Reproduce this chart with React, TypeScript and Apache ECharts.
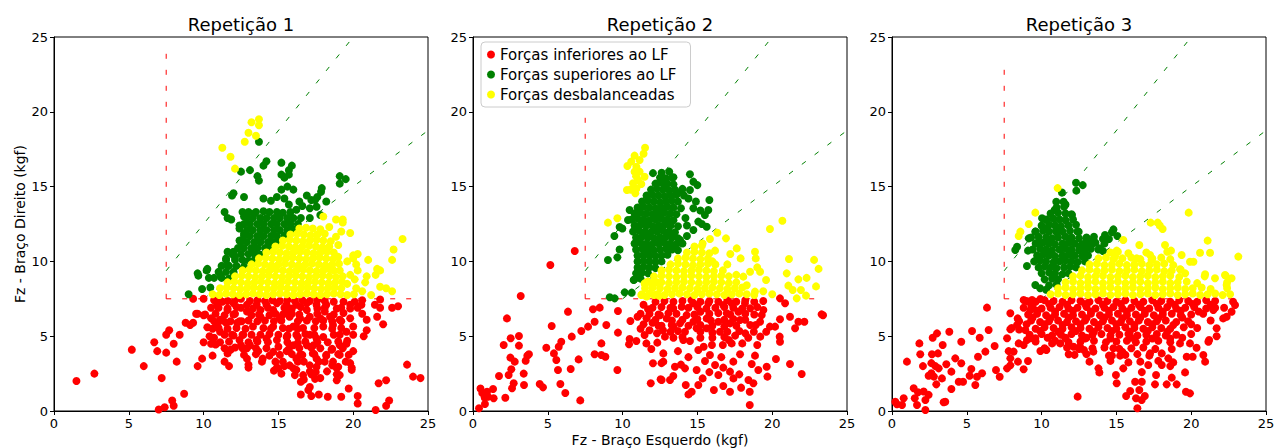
import React, { useEffect, useRef } from 'react';
import * as echarts from 'echarts';

const TITLES = ['Repetição 1', 'Repetição 2', 'Repetição 3'];
const X_LABEL = 'Fz - Braço Esquerdo (kgf)';
const Y_LABEL = 'Fz - Braço Direito (kgf)';
const SERIES_NAMES = ['Forças inferiores ao LF', 'Forças superiores ao LF', 'Forças desbalanceadas'];
const COLORS = ['#ff0000', '#008000', '#ffff00'];
const LF = 7.5;
const UPPER_RATIO = 1.25;
const LOWER_RATIO = 0.75;
const AXIS_MAX = 25;
const LINE_END = [24.5, 23.3, 23.3];

// ---------------- Repetição 1 ----------------
const p1Red = [
  [1.5,2.0],[2.7,2.5],[5.2,4.1],[6.0,3.0],[7.2,2.2],[7.0,0.1],[7.4,0.25],[7.9,0.7],[8.0,0.35],[8.7,1.15],[6.7,4.6],[6.9,4.0],[7.5,3.9],[7.5,5.1],[7.7,5.4],[8.0,4.5],[8.4,5.1],[8.2,3.3],[9.6,3.0],[9.9,3.5],[10.6,3.7],[8.8,5.9],[9.1,5.75],[9.3,5.9],[9.3,7.5],[10.0,7.5],[9.5,6.5],[10.0,4.6],
  [9.6,6.5],[10.0,6.4],[10.5,6.2],[10.25,5.6],[10.6,5.5],[10.9,5.75],[11.1,6.1],[10.5,6.9],[10.9,7.1],[10.7,7.4],[11.25,7.3],[11.6,6.75],[11.5,5.9],[11.8,6.0],[12.25,5.9],[12.1,6.5],[12.5,6.9],[12.0,7.2],[12.5,7.5],[10.4,5.0],[10.7,4.9],[11.1,4.6],[10.5,4.5],[10.8,4.45],[11.9,5.1],[12.4,4.75],[12.6,5.1],[11.8,4.1],[11.6,3.85],[11.4,3.3],[11.7,3.0],[12.6,4.2],[11.1,5.3],
  [23.6,3.1],[24.0,2.3],[24.5,2.2],[22.2,2.05],[21.7,1.85],[22.4,0.7],[22.2,0.35],[21.5,0.07],[20.3,1.0],[20.3,0.5],[19.2,0.95],[19.7,1.5],[18.3,0.95],[17.7,1.1],[17.2,1.0],[16.5,1.1],[17.1,1.6],[17.0,1.4],[16.5,1.95],[17.45,2.15],[17.8,2.2],[18.9,2.05],[19.1,2.4],[18.9,2.85],[19.9,2.75],[19.8,3.2],[20.0,4.0],[20.7,5.0],[20.9,5.4],[22.0,5.8],[21.6,6.3],[21.45,7.1],[21.8,6.9],[22.6,6.9],[23.0,7.0],[21.8,7.45],
  [14.7,2.7],[15.0,2.85],[16.1,2.4],[16.2,2.75],
  [13.0,3.1],[12.9,3.5],[12.5,4.4],[13.1,4.4],[12.65,5.1],[13.55,4.75],[13.95,3.5],[13.65,4.0],[14.8,3.3],[15.3,3.3],[15.55,4.0],[15.1,3.75],[16.0,4.4],[16.45,3.75],[16.7,3.3],[17.1,3.05],[17.55,2.95],[18.1,3.3],[18.2,3.75],[18.55,4.1],[19.1,4.4],[19.55,4.5],[19.1,3.75],[17.8,4.2],[17.3,3.85],[16.9,4.4],[17.55,4.85],[17.1,5.1],[18.0,4.95],[18.7,5.1],[19.1,5.1],[19.55,5.3],[20.0,5.65],[19.8,6.2],[19.35,6.55],[18.9,6.85],[18.2,7.1],[17.55,7.1],[16.9,7.2],[16.2,7.1],[15.55,7.1],[14.9,7.2],[14.2,7.1],[13.55,7.1],[12.9,7.1],[13.2,6.4],[13.8,6.3],[14.4,6.4],[15.1,6.2],[15.75,6.3],[16.45,6.2],[17.1,6.3],[17.8,6.2],[18.45,6.3],[19.1,6.1],[13.3,5.65],[14.0,5.55],[14.65,5.65],[15.3,5.55],[16.0,5.65],[16.65,5.55],[18.0,5.65],[18.65,5.75],[14.2,4.85],[14.9,4.75],[15.55,4.95],[16.3,4.95],[14.2,4.2],[14.65,3.95],[16.8,4.65],[17.35,4.4],[15.75,3.05],[16.2,3.5],[17.55,3.5],[18.65,3.3],[18.25,2.65],[16.65,2.4],[17.1,2.65],[12.9,6.65],[12.55,6.0],[15.55,6.65],[16.9,6.75],[18.1,6.65],[19.8,7.1],[20.1,7.3],[20.55,7.1],[14.65,6.75],[13.8,6.75],[18.7,7.3],[19.35,7.3],
  [11.1,7.4],[11.6,7.35],[12.1,7.4],[13.1,7.35],[13.6,7.4],[14.1,7.35],[14.6,7.4],[15.1,7.35],[15.6,7.4],[16.1,7.35],[16.6,7.4],[17.1,7.35],[17.6,7.4],[18.1,7.35],[20.6,7.4],
  [11.0,6.9],[11.6,6.85],[12.2,6.95],[13.3,6.85],[14.3,6.9],[15.4,6.9],[15.9,6.85],[16.5,6.95],[17.6,6.85],[18.1,6.9],[19.2,6.9],[19.8,6.85],[20.3,6.9],
  [10.1,6.45],[10.8,6.5],[11.4,6.4],[12.0,6.45],[13.7,6.45],[14.8,6.5],[15.3,6.45],[15.9,6.5],[16.4,6.45],[17.6,6.5],[18.7,6.45],[20.6,6.5],
  [10.7,6.0],[11.2,6.05],[12.4,6.0],[13.0,6.05],[13.6,6.0],[14.1,6.05],[14.7,6.0],[15.2,6.05],[16.3,6.0],[16.9,6.05],[17.5,6.0],[18.0,6.05],[18.6,6.0],[19.2,6.0],[20.9,6.1],
  [11.0,5.55],[11.6,5.5],[12.2,5.55],[12.8,5.5],[14.5,5.5],[15.7,5.5],[16.3,5.5],[17.4,5.55],[18.6,5.5],[19.2,5.55],
  [11.4,5.1],[12.0,5.05],[13.2,5.1],[13.8,5.1],[14.4,5.15],[15.0,5.1],[15.6,5.05],[16.2,5.1],[16.8,5.15],[17.4,5.1],[20.0,5.1],
  [11.7,4.65],[13.0,4.6],[13.6,4.65],[14.3,4.6],[15.0,4.3],[15.6,4.6],[16.3,4.55],[17.6,4.6],[18.3,4.6],[19.0,4.65],[19.6,4.7],
  [11.4,4.2],[12.1,4.25],[12.9,4.2],[13.5,4.2],[15.7,4.15],[16.4,4.2],[17.2,4.25],[18.6,4.15],[19.3,4.2],
  [12.7,3.75],[13.5,3.8],[14.4,3.7],[15.9,3.8],[16.6,3.75],[17.4,3.8],[18.2,3.7],[19.0,3.8],[19.7,3.75],
  [13.9,3.3],[15.4,3.0],[16.3,3.3],[17.7,3.3],[18.6,3.05],[19.5,3.3],
  [13.0,2.9],[14.9,2.9],[16.0,2.85],[17.5,2.6],[19.0,2.95],[19.9,2.9],
  [15.2,2.5],[16.7,2.1],[17.2,2.45],[18.9,2.45],
];

const p1Green = [
  [13.7,18.0],[12.5,16.0],[14.2,16.7],[14.0,16.4],[15.2,16.6],[15.9,16.4],[15.7,16.1],[15.7,15.8],[15.2,15.8],[15.4,15.6],[13.1,16.1],[13.6,15.7],[13.7,15.4],[11.9,14.4],[12.0,14.55],[12.7,14.3],[19.1,15.7],[19.5,15.5],[19.1,15.2],
  [15.2,14.8],[15.6,15.0],[16.0,14.8],[17.9,14.9],[17.85,14.65],[16.9,14.4],[17.6,14.3],[17.45,14.1],[18.2,14.0],[14.0,14.2],[14.5,14.05],[14.9,14.3],[15.4,14.2],[15.7,13.8],[16.4,14.0],[16.6,13.7],[17.1,13.55],[17.1,12.9],[17.8,13.1],[16.2,13.45],[17.55,13.65],[17.2,14.1],
  [12.9,13.1],[13.4,13.2],[11.4,13.3],[11.6,12.9],[11.85,12.8],[12.4,12.4],[12.4,12.2],[12.7,11.85],[12.4,11.4],[11.6,10.65],[12.0,10.65],[12.1,10.3],[12.7,13.0],
  [12.6,13.3],[13.0,13.3],[13.5,13.3],[14.0,13.35],[14.4,13.3],[14.9,13.3],[15.3,13.25],[15.8,13.3],
  [12.9,12.9],[13.3,12.9],[13.8,12.9],[14.2,12.9],[14.7,12.9],[15.1,12.9],[15.6,12.9],[16.0,12.9],[16.5,12.9],
  [12.7,12.5],[13.1,12.5],[13.6,12.5],[14.0,12.5],[14.5,12.5],[14.9,12.5],[15.4,12.5],[15.8,12.5],[16.3,12.5],
  [12.9,12.1],[13.3,12.1],[13.8,12.1],[14.2,12.1],[14.7,12.1],[15.1,12.1],[15.6,12.1],[16.0,12.15],
  [12.7,11.7],[13.1,11.7],[13.6,11.7],[14.0,11.7],[14.5,11.7],[14.9,11.7],[15.4,11.75],
  [12.5,11.3],[12.9,11.3],[13.4,11.3],[13.8,11.3],[14.3,11.3],[14.7,11.3],[15.1,11.35],
  [12.3,10.9],[12.7,10.9],[13.2,10.9],[13.6,10.9],[14.1,10.9],[14.5,10.95],
  [11.9,10.5],[12.5,10.5],[13.0,10.5],[13.4,10.5],[13.8,10.45],
  [11.5,10.1],[12.1,10.1],[12.6,10.1],[13.0,10.05],[13.4,10.1],
  [11.2,9.7],[11.7,9.7],[12.2,9.7],[12.7,9.65],
  [11.0,9.3],[11.5,9.3],[12.0,9.3],
  [10.7,8.9],[11.2,8.9],[11.7,8.85],
  [9.0,7.8],[9.65,9.05],[10.25,9.5],[10.35,8.9],[11.15,9.05],[11.6,9.75],[11.5,10.2],[11.6,8.75],[12.0,9.2],[9.9,8.15],[10.45,8.25],[9.6,9.2],[10.2,9.4],
];

const p1Yellow = [
  [13.2,19.3],[13.7,19.5],[13.7,19.1],[13.0,18.6],[13.5,18.4],[12.75,18.0],[11.25,17.6],[11.8,17.0],[12.1,16.2],
  [18.0,13.0],[18.4,12.3],[18.85,12.8],[19.3,12.8],[19.3,12.6],[19.8,11.9],[19.2,12.0],[18.85,11.65],[23.3,11.5],[22.7,10.8],[22.6,10.1],[20.3,10.5],[20.0,10.4],[21.6,9.5],[21.8,9.4],[21.5,9.1],[21.8,8.3],[22.2,8.2],[22.6,8.0],[21.2,7.75],[21.0,10.1],[20.2,9.8],[20.3,9.4],[19.8,9.1],[20.1,8.8],[20.2,8.2],[19.6,8.5],[18.7,9.4],[19.6,10.0],[20.0,10.2],[20.6,8.0],[20.8,8.6],[20.9,9.0],
  [10.6,7.8],[11.05,7.75],[11.5,7.85],[11.95,7.8],[12.4,7.75],[12.85,7.8],[13.3,7.85],[13.75,7.8],[14.2,7.75],[14.65,7.8],[15.1,7.85],[15.55,7.8],[16.0,7.75],[16.45,7.8],[16.9,7.85],[17.35,7.8],[17.8,7.75],[18.25,7.8],[18.7,7.85],[19.15,7.8],[19.6,7.75],[20.05,7.8],
  [11.1,8.2],[11.55,8.25],[12.0,8.2],[12.45,8.15],[12.9,8.2],[13.35,8.25],[13.8,8.2],[14.25,8.15],[14.7,8.2],[15.15,8.25],[15.6,8.2],[16.05,8.15],[16.5,8.2],[16.95,8.25],[17.4,8.2],[17.85,8.15],[18.3,8.2],[18.75,8.25],[19.2,8.2],
  [11.6,8.6],[12.05,8.65],[12.5,8.6],[12.95,8.55],[13.4,8.6],[13.85,8.65],[14.3,8.6],[14.75,8.55],[15.2,8.6],[15.65,8.65],[16.1,8.6],[16.55,8.55],[17.0,8.6],[17.45,8.65],[17.9,8.6],[18.35,8.55],[18.8,8.6],[19.25,8.65],
  [12.1,9.0],[12.55,9.05],[13.0,9.0],[13.45,8.95],[13.9,9.0],[14.35,9.05],[14.8,9.0],[15.25,8.95],[15.7,9.0],[16.15,9.05],[16.6,9.0],[17.05,8.95],[17.5,9.0],[17.95,9.05],[18.4,9.0],[18.85,8.95],[19.3,9.0],
  [12.6,9.4],[13.05,9.45],[13.5,9.4],[13.95,9.35],[14.4,9.4],[14.85,9.45],[15.3,9.4],[15.75,9.35],[16.2,9.4],[16.65,9.45],[17.1,9.4],[17.55,9.35],[18.0,9.4],[18.45,9.45],[19.1,9.4],
  [13.2,9.8],[13.65,9.85],[14.1,9.8],[14.55,9.75],[15.0,9.8],[15.45,9.85],[15.9,9.8],[16.35,9.75],[16.8,9.8],[17.25,9.85],[17.7,9.8],[18.15,9.75],[18.6,9.8],[19.05,9.85],
  [13.7,10.2],[14.15,10.25],[14.6,10.2],[15.05,10.15],[15.5,10.2],[15.95,10.25],[16.4,10.2],[16.85,10.15],[17.3,10.2],[17.75,10.25],[18.2,10.2],[18.65,10.15],[19.0,10.3],
  [14.2,10.6],[14.65,10.65],[15.1,10.6],[15.55,10.55],[16.0,10.6],[16.45,10.65],[16.9,10.6],[17.35,10.55],[17.8,10.6],[18.25,10.65],[18.7,10.6],
  [14.8,11.0],[15.25,11.05],[15.7,11.0],[16.15,10.95],[16.6,11.0],[17.05,11.05],[17.5,11.0],[17.95,10.95],[18.4,11.0],[19.0,11.1],
  [15.3,11.4],[15.75,11.45],[16.2,11.4],[16.65,11.35],[17.1,11.4],[17.55,11.45],[18.0,11.4],[18.5,11.35],
  [15.8,11.8],[16.25,11.85],[16.7,11.8],[17.15,11.75],[17.6,11.8],[18.1,11.85],
  [16.4,12.2],[16.85,12.25],[17.3,12.2],[17.8,12.15],
];

// ---------------- Repetição 2 ----------------
const p2Red = [
  [6.8,10.7],[5.17,9.76],[3.19,7.69],[2.27,6.19],[5.26,5.68],[6.35,6.64],[8.02,6.8],[8.47,6.91],[9.69,6.68],[10.52,6.02],[8.91,5.75],[7.69,5.64],[8.13,5.97],[7.24,5.35],[6.6,4.97],[5.9,4.63],[5.73,4.3],[4.9,4.23],[5.41,3.85],[5.57,3.41],[5.68,2.74],[6.53,2.81],[7.06,3.45],[5.84,1.8],[6.17,1.2],[7.17,0.71],[8.58,4.52],[8.13,3.79],[8.58,3.74],[8.85,3.63],[9.69,5.24],[9.65,2.74],[3.07,5.01],[2.52,4.86],[2.05,4.41],[3.07,4.37],[2.5,3.57],[2.79,3.3],[3.52,3.36],[3.63,3.7],[3.74,3.79],[2.56,2.79],[2.38,2.41],[3.39,2.5],[1.74,2.34],[2.72,1.85],[2.61,1.52],[3.41,1.74],[4.46,1.8],[4.68,1.58],[2.16,0.89],[1.34,1.47],[1.38,0.85],[0.94,1.29],[0.62,1.2],[0.5,1.5],[0.78,0.9],[1.0,0.95],[0.8,0.47],[0.4,0.18],
  [10.47,4.81],[10.43,4.46],[10.92,4.68],[11.47,5.08],[11.59,4.52],[11.92,4.14],[12.32,4.57],[12.03,3.19],[11.88,1.85],[12.54,2.12],[12.6,3.2],
  [11.4,7.1],[11.7,6.8],[11.2,6.5],[11.6,6.2],[12.0,5.9],[11.4,5.8],[11.0,6.3],[11.8,5.4],[12.3,5.2],[11.2,5.5],[12.5,6.4],[12.4,5.7],
  [13.39,6.86],[13.95,6.97],[14.73,7.2],[15.73,7.2],[16.73,7.09],[17.29,7.2],[18.18,7.2],[18.53,6.86],[19.41,6.75],[20.52,7.53],[20.86,7.2],[23.3,6.46],[23.4,6.4],[21.19,6.3],[21.75,5.97],[22.15,5.97],[21.53,5.53],[20.52,6.13],[20.19,5.64],[19.85,5.64],[20.5,4.97],[20.52,4.63],[20.25,3.48],[21.19,3.14],[21.97,2.47],[19.63,2.96],[19.68,2.3],[19.07,2.74],[18.63,3.14],[18.85,3.7],[17.85,3.79],[18.41,2.07],[18.5,1.29],[18.5,0.4],[18.74,1.85],[17.8,2.45],[17.18,2.63],[17.41,2.18],[17.18,1.29],[16.73,1.67],[17.92,1.56],[16.4,2.41],[16.18,3.07],[16.73,2.9],[15.84,3.74],[15.51,3.34],[15.35,2.18],[15.06,1.74],[14.62,1.29],[14.4,1.11],[14.22,1.74],[14.95,2.74],[14.17,2.85],[13.5,2.96],[13.9,3.1],[13.39,2.34],[13.17,2.07],[12.61,2.07],[12.72,3.3],[12.72,3.85],[15.06,4.08],[15.42,4.3],[15.97,4.41],[16.7,4.41],[17.29,4.52],[17.1,4.75],[18.0,4.52],[19.0,4.41],[19.2,4.97],[18.77,5.3],[18.2,5.19],[17.52,5.04],[16.51,5.3],[15.62,5.53],[14.95,5.53],[14.17,5.3],[14.06,4.75],[14.5,4.68],[15.2,4.9],[12.83,4.97],[12.7,5.4],[12.95,6.19],[13.84,5.86],[14.73,5.97],[15.62,6.19],[16.4,5.97],[17.18,5.86],[17.85,6.08],[18.53,5.75],[19.19,5.97],[19.3,6.41],[17.74,6.64],[16.96,6.53],[15.2,6.64],[14.28,6.41],[13.06,6.53],[13.28,5.75],
  [12.2,7.3],[12.8,7.35],[13.4,7.3],[14.0,7.35],[14.6,7.4],[15.2,7.3],[15.8,7.35],[16.4,7.3],[17.0,7.4],[17.6,7.3],[18.2,7.4],[18.8,7.3],[19.4,7.35],
  [12.0,6.9],[12.6,6.95],[13.2,6.9],[14.4,6.9],[15.0,6.95],[15.6,6.85],[16.2,6.9],[16.8,6.95],[17.4,6.9],[18.0,6.85],[19.0,6.95],
  [11.8,6.5],[12.4,6.45],[13.6,6.5],[14.8,6.45],[15.8,6.5],[16.4,6.55],[17.2,6.45],[18.2,6.5],[18.8,6.45],
  [12.2,6.1],[13.3,6.05],[14.0,6.1],[15.0,6.15],[15.9,6.05],[16.8,6.1],[17.4,6.15],[18.2,6.1],
  [12.6,5.7],[13.4,5.65],[14.4,5.7],[15.2,5.75],[16.0,5.7],[16.8,5.65],[17.6,5.7],[18.9,5.75],
  [13.2,5.3],[13.7,5.35],[15.2,5.3],[16.0,5.25],[17.0,5.3],[17.8,5.35],[19.6,5.3],
  [13.4,4.9],[14.0,4.95],[16.0,4.9],[16.8,4.95],[18.4,4.9],
  [13.7,4.0],[16.6,3.6],[17.4,3.3],[14.4,3.6],[16.1,1.4],[15.8,2.6],
];

const p2Green = [
  [9.8,12.3],[9.98,12.2],[9.45,11.7],[9.8,10.8],[9.65,10.27],[9.02,10.09],[10.36,12.77],[10.47,13.44],[9.14,7.6],[9.47,7.53],[10.14,7.93],[10.61,7.91],[10.74,8.76],[11.14,9.42],[12.03,15.9],[12.61,15.93],[13.12,16.0],[13.4,15.62],[14.5,15.82],[14.73,15.33],[15.0,15.1],[12.83,15.04],[13.95,14.7],[14.5,14.77],[15.8,14.1],[15.73,13.44],[14.73,13.55],[15.2,13.4],[15.5,13.1],[15.06,12.66],[15.3,12.5],[15.62,12.32],[14.73,12.1],[14.3,12.4],[13.84,11.43],[14.3,11.7],[14.2,12.9],[14.4,14.2],[14.9,14.0],
  [12.5,15.6],[12.9,15.55],[13.3,15.6],
  [12.2,15.2],[12.6,15.25],[13.0,15.2],[13.4,15.15],
  [11.9,14.8],[12.3,14.85],[12.7,14.8],[13.1,14.75],[13.5,14.8],[14.0,14.85],
  [11.6,14.4],[12.0,14.45],[12.4,14.4],[12.8,14.35],[13.2,14.4],[13.6,14.45],[14.1,14.4],
  [11.3,14.0],[11.7,14.05],[12.1,14.0],[12.5,13.95],[12.9,14.0],[13.3,14.05],[13.7,14.0],
  [11.0,13.6],[11.4,13.65],[11.8,13.6],[12.2,13.55],[12.6,13.6],[13.0,13.65],[13.4,13.6],[13.9,13.55],
  [10.8,13.2],[11.2,13.25],[11.6,13.2],[12.0,13.15],[12.4,13.2],[12.8,13.25],[13.2,13.2],[13.6,13.15],
  [10.6,12.8],[11.0,12.85],[11.4,12.8],[11.8,12.75],[12.2,12.8],[12.6,12.85],[13.0,12.8],[13.4,12.75],
  [10.8,12.4],[11.2,12.45],[11.6,12.4],[12.0,12.35],[12.4,12.4],[12.8,12.45],[13.2,12.4],[13.7,12.35],
  [10.7,12.0],[11.1,12.05],[11.5,12.0],[11.9,11.95],[12.3,12.0],[12.7,12.05],[13.1,12.0],[13.5,11.95],
  [10.9,11.6],[11.3,11.65],[11.7,11.6],[12.1,11.55],[12.5,11.6],[12.9,11.65],[13.3,11.6],[13.7,11.55],
  [10.8,11.2],[11.2,11.25],[11.6,11.2],[12.0,11.15],[12.4,11.2],[12.8,11.25],[13.2,11.2],[13.6,11.15],[14.0,11.2],
  [10.9,10.8],[11.3,10.85],[11.7,10.8],[12.1,10.75],[12.5,10.8],[12.9,10.85],[13.3,10.8],[13.7,10.75],
  [11.0,10.4],[11.4,10.45],[11.8,10.4],[12.2,10.35],[12.6,10.4],[13.0,10.45],
  [11.0,10.0],[11.4,10.05],[11.8,10.0],[12.2,9.95],[12.6,10.0],
  [11.0,9.6],[11.4,9.65],[11.8,9.6],[12.2,9.55],
  [10.9,9.2],[11.3,9.25],[11.7,9.2],
  [10.8,8.8],[11.2,8.85],
];

const p2Yellow = [
  [11.5,17.6],[11.4,17.2],[10.8,17.07],[11.14,16.78],[10.58,16.67],[10.32,16.38],[10.92,16.33],[10.8,16.0],[11.14,16.0],[11.47,15.66],[10.9,15.7],[11.03,15.44],[10.7,15.22],[11.25,15.17],[10.92,14.88],[10.29,14.77],[10.52,14.8],[10.85,14.55],[9.02,12.59],[9.65,12.88],
  [16.33,11.92],[16.91,11.54],[15.84,11.5],[15.35,11.2],[17.63,10.87],[18.85,10.65],[18.9,10.2],[17.2,10.5],[17.89,10.2],[21.12,10.16],[16.18,10.72],[20.68,12.72],[19.85,12.17],[20.97,9.2],[21.75,8.8],[22.93,8.33],[21.08,8.38],[21.37,8.09],[21.92,8.09],[22.26,7.71],[21.64,7.53],[19.19,9.31],[19.59,8.76],[18.85,7.98],[18.52,9.31],[18.07,8.98],[17.6,9.1],[17.0,9.8],[19.0,9.6],[11.47,8.53],[11.7,8.65],[12.0,8.3],[12.3,8.6],[11.25,7.75],[11.6,7.65],[12.1,7.75],[12.45,7.7],[22.8,10.1],[23.1,9.5],[22.3,8.9],[18.3,8.4],[19.4,8.0],[20.0,7.8],[16.0,10.0],
  [11.3,7.8],[11.8,7.85],[12.3,7.8],[12.8,7.75],[13.3,7.8],[13.8,7.85],[14.3,7.8],[14.8,7.75],[15.3,7.8],[15.8,7.85],[16.3,7.8],[16.8,7.75],[17.3,7.8],[17.8,7.85],[18.3,7.8],[18.8,7.75],
  [11.5,8.2],[12.0,8.25],[12.5,8.2],[13.0,8.15],[13.5,8.2],[14.0,8.25],[14.5,8.2],[15.0,8.15],[15.5,8.2],[16.0,8.25],[16.5,8.2],[17.0,8.15],[17.5,8.2],[18.0,8.25],
  [11.6,8.6],[12.1,8.65],[12.6,8.6],[13.1,8.55],[13.6,8.6],[14.1,8.65],[14.6,8.6],[15.1,8.55],[15.6,8.6],[16.1,8.65],[16.6,8.6],[17.1,8.55],[17.6,8.6],
  [12.1,9.0],[12.6,9.05],[13.1,9.0],[13.6,8.95],[14.1,9.0],[14.6,9.05],[15.1,9.0],[15.6,8.95],[16.1,9.0],[16.6,9.05],[17.1,9.0],
  [12.6,9.4],[13.1,9.45],[13.6,9.4],[14.1,9.35],[14.6,9.4],[15.1,9.45],[15.6,9.4],[16.1,9.35],[16.7,9.4],
  [13.2,9.8],[13.7,9.85],[14.2,9.8],[14.7,9.75],[15.2,9.8],[15.7,9.85],[16.2,9.8],
  [13.7,10.2],[14.2,10.25],[14.7,10.2],[15.2,10.15],[15.7,10.2],
  [14.3,10.6],[14.8,10.65],[15.3,10.6],[15.8,10.55],
  [14.8,11.0],[15.3,11.05],
];

// ---------------- Repetição 3 ----------------
const p3Red = [
  [8.8,7.42],[9.36,7.42],[9.92,7.49],[6.35,6.91],[9.25,6.75],[7.91,6.53],[8.4,6.19],[8.36,5.75],[7.91,5.46],[8.5,5.45],[8.91,5.41],[6.46,5.41],[5.35,5.35],[5.86,4.9],[3.83,5.3],[3.01,5.19],[2.72,4.9],[1.83,4.52],[3.39,4.41],[4.63,4.63],[6.86,4.34],[7.69,4.86],[7.8,4.0],[8.13,3.97],[8.47,4.52],[8.8,4.41],[9.02,4.75],[9.25,4.86],[1.89,3.79],[2.67,3.79],[3.07,3.85],[4.23,3.52],[4.63,3.19],[5.75,3.63],[6.24,3.97],[1.0,3.3],[2.07,3.0],[2.63,3.2],[2.9,3.0],[3.12,2.85],[3.63,3.12],[3.97,2.63],[2.63,2.52],[2.8,2.3],[2.45,2.36],[3.34,2.18],[2.96,1.78],[4.46,1.96],[4.75,1.96],[5.3,2.81],[5.19,2.36],[5.68,2.29],[5.57,1.74],[6.02,2.52],[6.95,2.74],[7.2,2.29],[7.69,2.85],[7.91,3.05],[7.91,3.52],[8.42,3.3],[8.8,2.79],[9.09,3.34],[3.97,1.47],[1.45,1.52],[1.74,1.25],[2.12,1.3],[2.45,1.08],[2.23,0.74],[1.52,0.85],[1.67,0.4],[0.78,0.85],[0.22,0.62],[0.33,0.45],[0.67,0.4],[2.23,0.07],[3.45,0.58],[3.56,0.62],[9.92,4.01],[10.32,4.08],[9.58,4.86],[10.7,4.52],[11.25,4.52],[11.59,4.86],[11.81,3.79],[12.14,4.3],[12.41,0.96],
  [16.4,0.18],[16.69,0.74],[16.9,1.0],[16.31,0.85],[15.65,1.0],[15.92,1.34],[16.53,1.4],[15.02,1.85],[14.97,2.41],[13.86,2.58],[13.8,2.85],[15.46,2.85],[16.25,1.96],[16.7,1.96],[17.58,1.78],[18.36,1.78],[19.03,1.78],[19.65,1.29],[19.92,1.18],[19.59,2.58],[18.7,2.23],[17.65,2.41],[18.03,3.07],[18.6,3.0],[18.47,3.52],[18.03,3.85],[17.13,3.07],[16.7,2.6],[17.25,3.85],[19.7,3.63],[20.1,3.63],[20.36,4.23],[20.81,3.74],[20.93,3.3],[21.15,4.63],[21.2,4.75],[19.92,4.52],[19.25,4.52],[18.7,4.14],[18.6,4.85],[21.7,5.53],[22.14,6.19],[22.37,6.3],[22.7,6.64],[22.93,7.09],[21.48,6.75],[21.6,6.9],[21.7,5.0],[14.8,4.19],[15.25,3.7],[15.4,3.95],[14.7,3.7],[13.46,3.97],[12.83,4.08],[12.57,4.3],[12.9,4.85],
  [9.0,7.35],[9.6,7.3],[10.2,7.4],[10.8,7.35],[11.4,7.3],[12.0,7.4],[12.6,7.35],[13.2,7.3],[13.8,7.4],[14.4,7.35],[15.0,7.3],[15.6,7.4],[16.2,7.35],[16.8,7.3],[17.4,7.4],[18.0,7.35],[18.6,7.3],[19.2,7.4],[19.8,7.35],[20.4,7.3],[21.0,7.4],[21.6,7.35],[22.8,7.3],
  [8.8,6.9],[9.4,6.95],[10.0,6.85],[10.6,6.9],[11.2,6.95],[11.8,6.85],[12.4,6.9],[13.0,6.95],[13.6,6.85],[14.2,6.9],[14.8,6.95],[15.4,6.85],[16.0,6.9],[16.6,6.95],[17.2,6.85],[17.8,6.9],[18.4,6.95],[19.0,6.85],[19.6,6.9],[20.2,6.95],[21.0,6.85],[22.2,6.9],
  [9.1,6.45],[9.7,6.5],[10.3,6.4],[10.9,6.45],[11.5,6.5],[12.1,6.4],[12.7,6.45],[13.3,6.5],[13.9,6.4],[14.5,6.45],[15.1,6.5],[15.7,6.4],[16.3,6.45],[16.9,6.5],[17.5,6.4],[18.1,6.45],[18.7,6.5],[19.3,6.4],[20.0,6.45],[20.8,6.5],
  [8.5,6.0],[9.3,6.05],[9.9,5.95],[10.5,6.0],[11.1,6.05],[11.7,5.95],[12.3,6.0],[12.9,6.05],[13.5,5.95],[14.1,6.0],[14.7,6.05],[15.3,5.95],[15.9,6.0],[16.5,6.05],[17.1,5.95],[17.7,6.0],[18.3,6.05],[19.0,5.95],[19.8,6.0],[21.3,6.05],
  [8.0,5.55],[9.6,5.5],[10.2,5.6],[10.8,5.55],[11.4,5.5],[12.0,5.6],[12.6,5.55],[13.2,5.5],[13.8,5.6],[14.4,5.55],[15.0,5.5],[15.6,5.6],[16.2,5.55],[16.8,5.5],[17.4,5.6],[18.0,5.55],[18.6,5.5],[19.5,5.6],[20.4,5.55],
  [9.2,5.1],[10.0,5.15],[10.7,5.05],[11.3,5.1],[12.0,5.15],[12.7,5.05],[13.4,5.1],[14.0,5.15],[14.6,5.05],[15.2,5.1],[15.8,5.15],[16.4,5.05],[17.0,5.1],[17.7,5.15],[18.3,5.05],[19.0,5.1],[20.0,5.15],
  [9.6,4.65],[10.9,4.7],[11.8,4.6],[12.6,4.65],[13.5,4.7],[14.3,4.6],[15.0,4.65],[15.7,4.7],[16.3,4.6],[17.0,4.65],[17.8,4.7],[18.6,4.6],
  [10.2,4.2],[11.7,4.25],[12.5,4.15],[13.4,4.2],[14.2,4.25],[15.2,4.15],[16.0,4.2],[16.8,4.25],[17.6,4.15],
  [12.2,3.75],[13.0,3.8],[14.5,3.7],[15.6,3.75],[16.4,3.8],[17.2,3.7],
  [13.2,3.3],[14.6,3.35],[15.8,3.25],[16.6,3.3],[17.8,3.35],[18.8,3.25],
  [9.3,7.1],[10.5,7.15],[11.7,7.1],[12.9,7.15],[14.1,7.1],[15.3,7.15],[16.5,7.1],[17.7,7.15],[18.9,7.1],[20.1,7.15],[21.3,7.1],
  [9.7,6.7],[10.9,6.65],[12.1,6.7],[13.3,6.65],[14.5,6.7],[15.7,6.65],[16.9,6.7],[18.1,6.65],[19.3,6.7],[20.5,6.65],
  [9.4,6.25],[10.6,6.2],[11.8,6.25],[13.0,6.2],[14.2,6.25],[15.4,6.2],[16.6,6.25],[17.8,6.2],[19.4,6.25],
  [9.0,5.8],[10.2,5.8],[11.4,5.75],[12.6,5.8],[13.8,5.75],[15.0,5.8],[16.2,5.75],[17.4,5.8],[18.8,5.75],[20.0,5.8],
  [9.9,5.35],[11.1,5.3],[12.3,5.35],[13.5,5.3],[14.7,5.35],[15.9,5.3],[17.1,5.35],[18.4,5.3],
  [10.4,4.9],[11.6,4.9],[13.0,4.9],[14.6,4.85],[16.0,4.9],[17.4,4.85],[19.4,4.9],
];

const p3Green = [
  [12.3,15.26],[12.32,14.73],[11.36,14.6],[11.47,13.99],[11.6,13.8],[10.98,13.99],[10.87,13.44],[10.03,12.88],[10.36,12.77],[12.03,13.1],[10.14,12.21],[9.58,11.99],[10.96,12.05],[9.14,11.54],[9.8,11.32],[8.36,10.98],[8.24,10.76],[9.09,10.72],[9.02,9.69],[12.48,11.99],[12.52,10.98],[12.75,15.1],[14.8,12.14],[14.7,11.95],[15.06,11.7],[14.24,11.76],[14.1,11.5],[14.5,11.5],[13.46,11.43],[13.4,11.2],[12.97,11.32],[12.9,10.76],[13.9,10.87],[14.1,10.7],[9.58,8.42],[9.9,8.2],[10.3,8.1],
  [11.0,13.6],[11.5,13.65],
  [10.6,13.2],[11.1,13.25],[11.6,13.2],[12.0,13.15],
  [10.3,12.8],[10.8,12.85],[11.2,12.8],[11.6,12.75],[12.1,12.8],
  [10.0,12.4],[10.5,12.45],[10.9,12.4],[11.3,12.35],[11.8,12.4],[12.3,12.45],
  [9.6,12.0],[10.1,12.05],[10.5,12.0],[11.0,11.95],[11.4,12.0],[11.9,12.05],[12.4,12.0],
  [9.3,11.6],[9.8,11.65],[10.3,11.6],[10.7,11.55],[11.1,11.6],[11.6,11.65],[12.0,11.6],[12.5,11.55],[13.0,11.6],[13.5,11.65],
  [9.6,11.2],[10.1,11.25],[10.5,11.2],[10.9,11.15],[11.4,11.2],[11.8,11.25],[12.2,11.2],[12.7,11.15],[13.1,11.2],[13.6,11.25],[14.2,11.2],
  [9.4,10.8],[9.9,10.85],[10.3,10.8],[10.7,10.75],[11.2,10.8],[11.6,10.85],[12.0,10.8],[12.5,10.75],[12.9,10.8],[13.3,10.85],[13.8,10.8],
  [9.7,10.4],[10.1,10.45],[10.5,10.4],[10.9,10.35],[11.4,10.4],[11.8,10.45],[12.2,10.4],[12.7,10.35],[13.1,10.4],
  [9.5,10.0],[9.9,10.05],[10.3,10.0],[10.8,9.95],[11.2,10.0],[11.6,10.05],[12.0,10.0],[12.4,9.95],[12.9,10.0],
  [9.8,9.6],[10.2,9.65],[10.6,9.6],[11.0,9.55],[11.5,9.6],[11.9,9.65],[12.3,9.6],
  [10.0,9.2],[10.5,9.25],[10.9,9.2],[11.4,9.15],[11.8,9.2],
  [10.2,8.8],[10.7,8.85],[11.1,8.8],
  [10.5,8.4],[11.0,8.45],
];

const p3Yellow = [
  [11.07,14.9],[9.58,13.26],[9.14,12.5],[8.58,11.99],[8.47,11.7],[19.83,13.26],[17.29,12.59],[17.76,12.59],[17.9,12.4],[18.09,12.17],[21.1,11.39],[18.25,11.1],[18.65,10.72],[16.53,11.1],[15.02,10.72],[15.46,11.43],[20.59,10.58],[21.26,10.58],[23.15,10.32],[19.36,10.43],[19.92,9.98],[20.15,9.98],[19.25,9.47],[19.6,9.2],[20.93,9.14],[21.59,8.87],[22.26,9.09],[22.7,8.87],[22.37,8.42],[17.25,10.43],[17.35,10.1],[16.36,10.2],[14.91,10.32],
  [10.6,7.8],[11.1,7.85],[11.6,7.75],[12.1,7.8],[12.6,7.85],[13.1,7.75],[13.6,7.8],[14.1,7.85],[14.6,7.75],[15.1,7.8],[15.6,7.85],[16.1,7.75],[16.6,7.8],[17.1,7.85],[17.6,7.75],[18.1,7.8],[18.6,7.85],[19.1,7.75],[19.6,7.8],[20.1,7.85],[20.6,7.75],[21.1,7.8],[21.6,7.85],[22.1,7.75],[22.6,7.8],
  [11.1,8.2],[11.6,8.25],[12.1,8.15],[12.6,8.2],[13.1,8.25],[13.6,8.15],[14.1,8.2],[14.6,8.25],[15.1,8.15],[15.6,8.2],[16.1,8.25],[16.6,8.15],[17.1,8.2],[17.6,8.25],[18.1,8.15],[18.6,8.2],[19.1,8.25],[19.6,8.15],[20.1,8.2],[20.7,8.25],[21.3,8.15],[22.4,8.2],
  [11.6,8.6],[12.1,8.65],[12.6,8.55],[13.1,8.6],[13.6,8.65],[14.1,8.55],[14.6,8.6],[15.1,8.65],[15.6,8.55],[16.1,8.6],[16.6,8.65],[17.1,8.55],[17.6,8.6],[18.1,8.65],[18.6,8.55],[19.1,8.6],[19.7,8.65],[20.4,8.55],[22.4,8.6],
  [12.1,9.0],[12.6,9.05],[13.1,8.95],[13.6,9.0],[14.1,9.05],[14.6,8.95],[15.1,9.0],[15.6,9.05],[16.1,8.95],[16.6,9.0],[17.1,9.05],[17.6,8.95],[18.1,9.0],[18.6,9.05],[19.2,8.95],[20.9,9.0],[22.3,9.05],
  [12.7,9.4],[13.2,9.45],[13.7,9.35],[14.2,9.4],[14.7,9.45],[15.2,9.35],[15.7,9.4],[16.2,9.45],[16.7,9.35],[17.2,9.4],[17.7,9.45],[18.2,9.35],[18.7,9.4],[19.3,9.45],
  [13.2,9.8],[13.7,9.85],[14.2,9.75],[14.7,9.8],[15.2,9.85],[15.7,9.75],[16.2,9.8],[16.7,9.85],[17.2,9.75],[17.7,9.8],[18.2,9.85],[18.8,9.75],
  [13.8,10.2],[14.3,10.25],[14.8,10.15],[15.4,10.2],[16.0,10.25],[16.6,10.15],[17.4,10.2],[18.0,10.25],[18.6,10.15],
  [14.6,10.6],[15.1,10.65],[15.8,10.55],[17.0,10.6],[18.4,10.65],
];

const PANELS = [
  { red: p1Red, green: p1Green, yellow: p1Yellow },
  { red: p2Red, green: p2Green, yellow: p2Yellow },
  { red: p3Red, green: p3Green, yellow: p3Yellow },
];

const GRID_LEFT = [54, 473, 892];
const GRID_TOP = 37;
const GRID_SIZE = 374;
const FONT = 'DejaVu Sans';

export default function App() {
  const ref = useRef<HTMLDivElement>(null);

  useEffect(() => {
    if (!ref.current) return;
    const chart = echarts.init(ref.current, undefined, { renderer: 'svg' });

    const grid = GRID_LEFT.map((left) => ({
      left, top: GRID_TOP, width: GRID_SIZE, height: GRID_SIZE,
      show: true, borderColor: '#000', borderWidth: 1, backgroundColor: 'transparent',
    }));

    const axisCommon = {
      type: 'value', min: 0, max: AXIS_MAX, interval: 5,
      axisLine: { show: true, lineStyle: { color: '#000', width: 1 } },
      axisTick: { show: true, inside: false, length: 4, lineStyle: { color: '#000' } },
      splitLine: { show: false },
    };

    const xAxis = GRID_LEFT.map((_, i) => ({
      ...axisCommon, gridIndex: i,
      axisLabel: { color: '#000', fontSize: 13, fontFamily: FONT, margin: 6 },
    }));
    const yAxis = GRID_LEFT.map((_, i) => ({
      ...axisCommon, gridIndex: i,
      axisLabel: { color: '#000', fontSize: 13, fontFamily: FONT, margin: 6 },
    }));

    const series: any[] = [];
    PANELS.forEach((p, i) => {
      const end = LINE_END[i];
      const dashRed = { color: '#ff0000', width: 1, type: [5, 11] };
      const dashGreen = { color: '#008000', width: 1, type: [5, 11] };
      const lineBase = {
        type: 'line', xAxisIndex: i, yAxisIndex: i, symbol: 'none', silent: true, z: 1,
        clip: true, animation: false,
      };
      series.push({ ...lineBase, data: [[LF, LF], [LF, end]], lineStyle: dashRed });
      series.push({ ...lineBase, data: [[LF, LF], [end, LF]], lineStyle: dashRed });
      series.push({ ...lineBase, data: [[LF, LF * UPPER_RATIO], [AXIS_MAX / UPPER_RATIO, AXIS_MAX]], lineStyle: dashGreen });
      series.push({ ...lineBase, data: [[LF / LOWER_RATIO, LF], [AXIS_MAX, AXIS_MAX * LOWER_RATIO]], lineStyle: dashGreen });
      const sets = [p.red, p.green, p.yellow];
      sets.forEach((d, k) => {
        series.push({
          type: 'scatter', name: SERIES_NAMES[k], xAxisIndex: i, yAxisIndex: i,
          data: d, symbol: 'circle', symbolSize: 8, z: 2 + k,
          itemStyle: { color: COLORS[k], opacity: 1 },
          emphasis: { disabled: true },
        });
      });
    });

    chart.setOption({
      animation: false,
      backgroundColor: '#fff',
      title: TITLES.map((t, i) => ({
        text: t, left: GRID_LEFT[i] + GRID_SIZE / 2, top: 15, textAlign: 'center', padding: 0,
        textStyle: { fontSize: 18, fontWeight: 'normal', color: '#000', fontFamily: FONT },
      })),
      legend: {
        data: SERIES_NAMES, left: 481, top: 42, orient: 'vertical',
        icon: 'circle', itemWidth: 8, itemHeight: 8, itemGap: 5,
        padding: [5, 14, 5, 6],
        backgroundColor: '#fff', borderColor: '#cccccc', borderWidth: 1, borderRadius: 4,
        textStyle: { fontSize: 15, fontFamily: FONT, color: '#000' },
        selectedMode: false, z: 10,
      },
      grid, xAxis, yAxis, series,
      graphic: [
        {
          type: 'text', x: 20, y: GRID_TOP + GRID_SIZE / 2, rotation: Math.PI / 2,
          style: { text: Y_LABEL, fontSize: 14, fontFamily: FONT, fill: '#000', align: 'center', verticalAlign: 'middle' },
        },
        {
          type: 'text', x: GRID_LEFT[1] + GRID_SIZE / 2, y: 440,
          style: { text: X_LABEL, fontSize: 14, fontFamily: FONT, fill: '#000', align: 'center', verticalAlign: 'middle' },
        },
      ],
    });

    return () => chart.dispose();
  }, []);

  return <div ref={ref} style={{ position: 'fixed', left: 0, top: 0, width: 1286, height: 448 }} />;
}
